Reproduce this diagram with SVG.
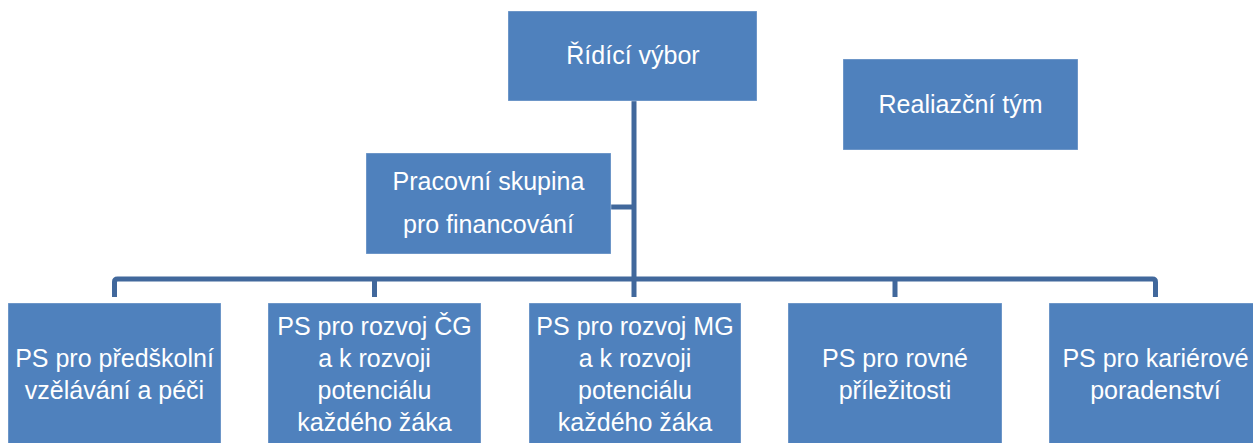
<svg xmlns="http://www.w3.org/2000/svg" width="1253" height="443" viewBox="0 0 1253 443">
<style>
.box{fill:#4F81BD;stroke:#ffffff;stroke-opacity:0.35;stroke-width:1}
.t{font-family:"Liberation Sans",Arial,sans-serif;font-size:25px;fill:#ffffff;text-anchor:middle}
.c{fill:none;stroke:#41689C;stroke-width:5;stroke-linejoin:round}
</style>
<rect width="1253" height="443" fill="#ffffff"/>
<g id="connectors">
<path class="c" d="M634 101 V297"/>
<path class="c" d="M611 207 H634"/>
<path class="c" d="M114.5 297 V282 Q114.5 279 117.5 279 H1152.5 Q1155.5 279 1155.5 282 V297"/>
<path class="c" d="M374.5 279 V297 M895 279 V297"/>
</g>
<g id="ridici-vybor">
<rect class="box" x="508" y="11" width="249" height="90"/>
<text class="t" x="633" y="64">Řídící výbor</text>
</g>
<g id="realizacni-tym">
<rect class="box" x="843" y="59" width="235" height="91"/>
<text class="t" x="960.5" y="113">Realiazční tým</text>
</g>
<g id="pracovni-skupina">
<rect class="box" x="366" y="153" width="245" height="101"/>
<text class="t" x="488.5" y="190">Pracovní skupina</text>
<text class="t" x="488.5" y="233">pro financování</text>
</g>
<g id="ps-predskolni">
<rect class="box" x="8" y="303" width="213" height="150"/>
<text class="t" x="114.5" y="367">PS pro předškolní</text>
<text class="t" x="114.5" y="399">vzělávání a péči</text>
</g>
<g id="ps-cg">
<rect class="box" x="268" y="303" width="213" height="150"/>
<text class="t" x="374.5" y="335">PS pro rozvoj ČG</text>
<text class="t" x="374.5" y="367">a k rozvoji</text>
<text class="t" x="374.5" y="399">potenciálu</text>
<text class="t" x="374.5" y="431">každého žáka</text>
</g>
<g id="ps-mg">
<rect class="box" x="529" y="303" width="212" height="150"/>
<text class="t" x="635" y="335">PS pro rozvoj MG</text>
<text class="t" x="635" y="367">a k rozvoji</text>
<text class="t" x="635" y="399">potenciálu</text>
<text class="t" x="635" y="431">každého žáka</text>
</g>
<g id="ps-rovne">
<rect class="box" x="788" y="303" width="214" height="150"/>
<text class="t" x="895" y="367">PS pro rovné</text>
<text class="t" x="895" y="399">příležitosti</text>
</g>
<g id="ps-karierove">
<rect class="box" x="1049" y="303" width="213" height="150"/>
<text class="t" x="1155.5" y="367">PS pro kariérové</text>
<text class="t" x="1155.5" y="399">poradenství</text>
</g>
</svg>
